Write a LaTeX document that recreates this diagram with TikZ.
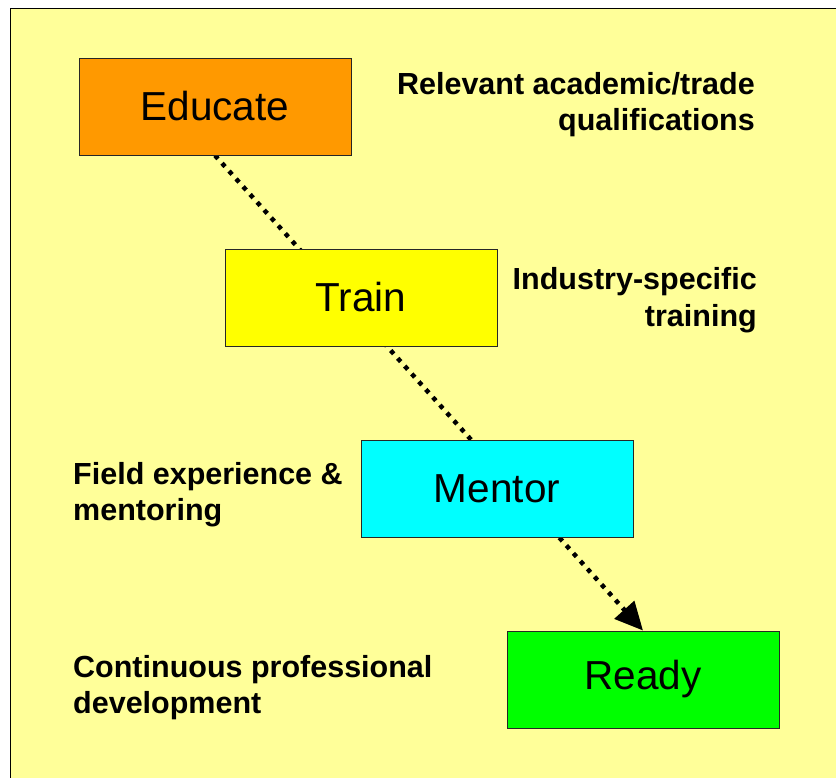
\documentclass[tikz,border=0pt]{standalone}
\usepackage{fontspec}
\setmainfont{Liberation Sans}
\usetikzlibrary{arrows.meta,backgrounds}

\definecolor{paper}{HTML}{FFFF99}
\definecolor{educatefill}{HTML}{FF9900}
\definecolor{trainfill}{HTML}{FFFF00}
\definecolor{mentorfill}{HTML}{00FFFF}
\definecolor{readyfill}{HTML}{00FF00}

\tikzset{
  stage/.style={draw=black!85, line width=0.9pt, minimum width=272pt,
    minimum height=97pt, inner sep=0pt, font=\fontsize{40.5}{48}\selectfont},
  note/.style={inner sep=0pt, font=\fontsize{30.5}{36.5}\selectfont\bfseries},
  pathline/.style={line width=4.5pt, dash pattern=on 4.5pt off 6pt,
    -{Triangle[length=28pt,width=26pt]}}
}

\begin{document}
\begin{tikzpicture}[x=1pt, y=-1pt]
      \useasboundingbox (0,0) rectangle (836,778);
      % the four stages
      \node[stage, fill=educatefill] (educate) at (215,106.5) {Educate};
      \node[stage, fill=trainfill] (train) at (361,297.5) {Train};
      \node[stage, fill=mentorfill] (mentor) at (497,488.5) {Mentor};
      \node[stage, fill=readyfill] (ready) at (643,679.5) {Ready};
      % side notes
      \node[note, anchor=north east, align=right] (qualif) at (755,72)
        {Relevant academic/trade\\qualifications};
      \node[note, anchor=north east, align=right] (industry) at (757,267.5)
        {Industry-specific\\training};
      \node[note, anchor=north west, align=left] (field) at (73,462)
        {Field experience \&\\mentoring};
      \node[note, anchor=north west, align=left] (cpd) at (73,655)
        {Continuous professional\\development};
      \begin{scope}[on background layer]
        \fill[white] (0,0) rectangle (836,778);
        \draw[fill=paper, line width=1pt] (10,9) rectangle (840,782);
        \draw[pathline] (educate.south) -- (ready.north);
      \end{scope}
    \end{tikzpicture}
\end{document}
